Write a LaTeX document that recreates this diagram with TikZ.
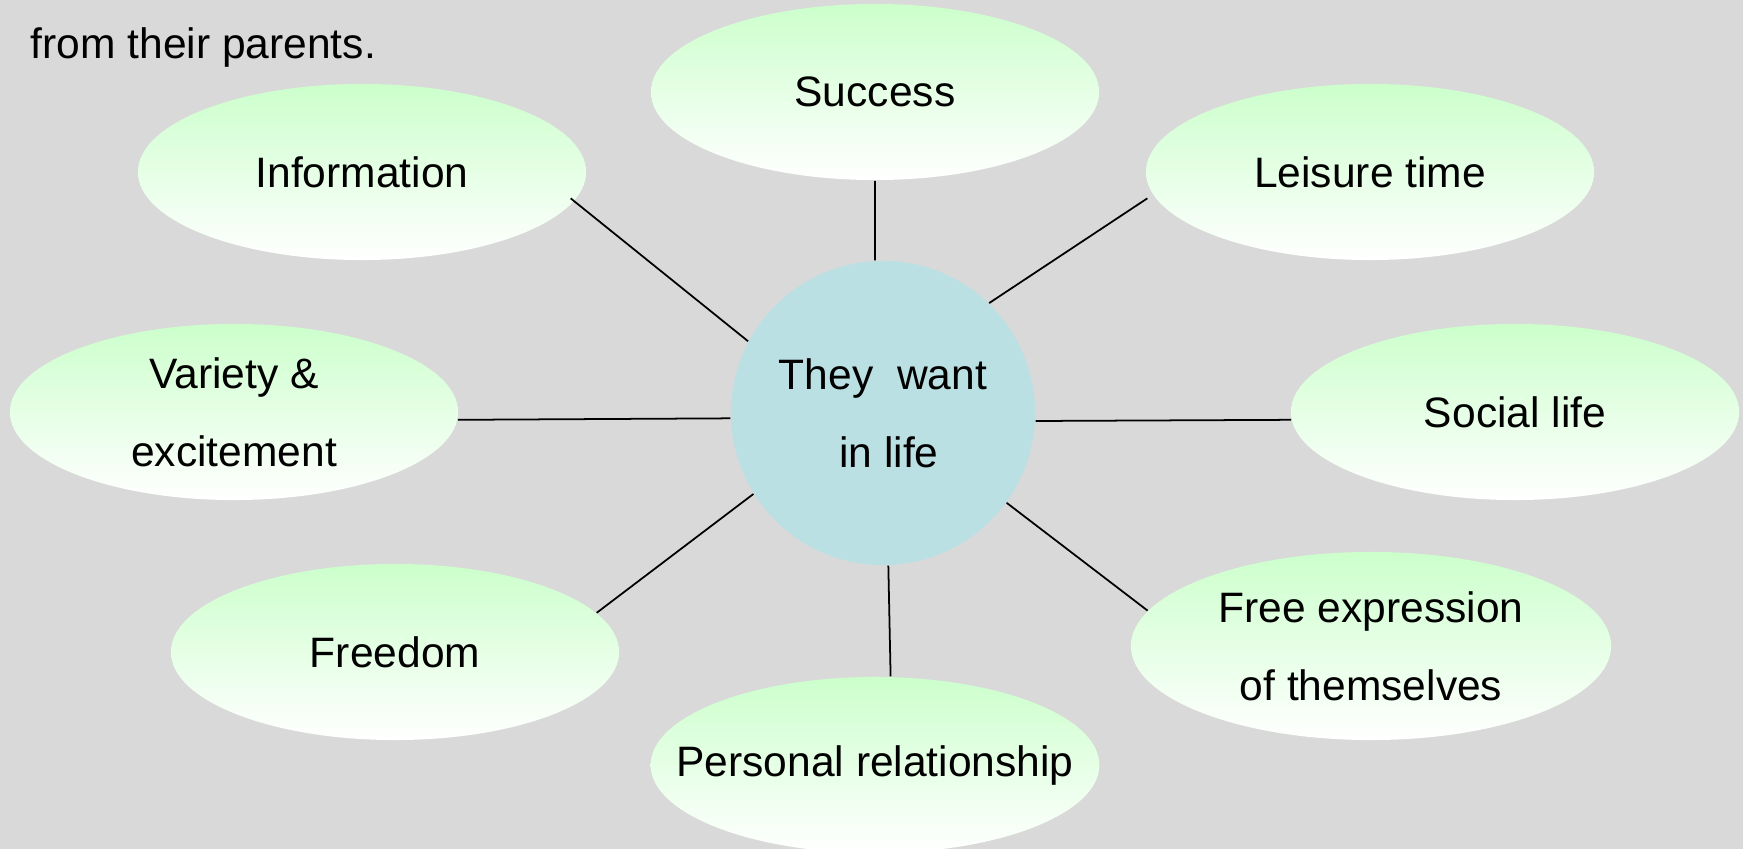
\documentclass[tikz,border=0pt]{standalone}
\usepackage{fontspec}
\setmainfont{Liberation Sans}
\usetikzlibrary{shapes.geometric}
\definecolor{paleGrey}{RGB}{217,217,217}
\definecolor{hubBlue}{RGB}{187,224,227}
\colorlet{paleGreen}{green!20!white}

\begin{document}
\begin{tikzpicture}[x=0.01cm, y=-0.01cm,
    font=\fontsize{12.1}{22.2}\selectfont,
    bubble/.style={ellipse, minimum width=4.48cm, minimum height=1.76cm, inner sep=0pt,
        top color=paleGreen, bottom color=white, align=center},
    hub/.style={circle, fill=hubBlue, minimum size=3.04cm, inner sep=0pt, align=center},
    link/.style={draw=black, line width=0.5pt}]
    \fill[paleGrey] (0,0) rectangle (1743,849);
    \useasboundingbox (0,0) rectangle (1743,849);
    \clip (0,0) rectangle (1743,849);
    \node[anchor=base west, inner sep=0pt] (intro) at (30,59) {from their parents.};
    % centre and the bubbles round it
    \node[hub] (want) at (883,413) {They\ \ want\\ \ in life};
    \node[bubble] (success) at (875,92) {Success};
    \node[bubble] (info) at (362,172) {Information};
    \node[bubble] (leisure) at (1370,172) {Leisure time};
    \node[bubble] (variety) at (234,412) {Variety \& \\ excitement};
    \node[bubble] (social) at (1515,412) {Social life};
    \node[bubble] (freedom) at (395,652) {Freedom};
    \node[bubble, minimum width=4.8cm, minimum height=1.88cm] (express) at (1371,646) {Free expression\\ of themselves};
    \node[bubble, inner xsep=-0.4cm] (personal) at (875,765) {Personal relationship};
    % spokes
    \draw[link] (want.93) -- (success.south);
    \draw[link] (want.152) -- ([xshift=-0.06cm]info.-7);
    \draw[link] (want.46) -- ([xshift=-0.08cm]leisure.187);
    \draw[link] (want.182.6) -- (variety.-2);
    \draw[link] (want.357.4) -- (social.182);
    \draw[link] (want.212.7) -- (freedom.11);
    \draw[link] (want.-36) -- (express.171);
    \draw[link] (want.272.6) -- (personal.80);
\end{tikzpicture}
\end{document}
